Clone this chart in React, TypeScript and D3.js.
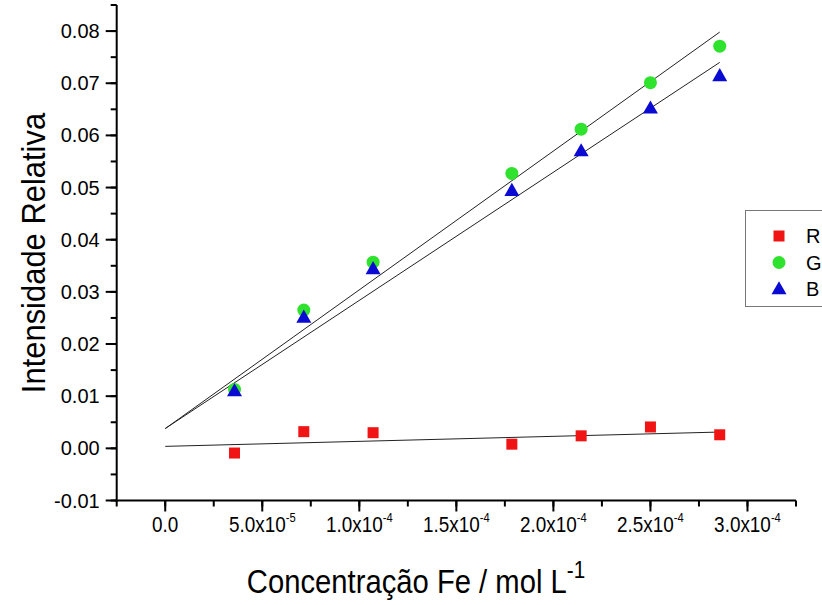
import React from "react";
import * as d3 from "d3";

// Fe concentration (mol/L) for each standard
const concentration = [3.57e-5, 7.14e-5, 1.071e-4, 1.786e-4, 2.143e-4, 2.5e-4, 2.857e-4];

// relative intensity per channel
const seriesR = [-0.0009, 0.0032, 0.003, 0.0008, 0.0024, 0.0041, 0.0026];
const seriesG = [0.0113, 0.0265, 0.0357, 0.0527, 0.0612, 0.0701, 0.0771];
const seriesB = [0.011, 0.0251, 0.0344, 0.0494, 0.057, 0.0652, 0.0714];

// linear fits: [intercept, slope]
const fitR = [0.00038, 9.6];
const fitG = [0.00378, 266.1];
const fitB = [0.0038, 245.7];
const fitRange = [0, 2.857e-4];

const xTicks = [0, 5e-5, 1e-4, 1.5e-4, 2e-4, 2.5e-4, 3e-4];
const yTicks = [-0.01, 0, 0.01, 0.02, 0.03, 0.04, 0.05, 0.06, 0.07, 0.08];

const W = 822;
const H = 605;
const FONT = "'Liberation Sans', Arial, sans-serif";

const colors = { R: "#f01414", G: "#2ee22e", B: "#0a0ad2" };

function xLabel(v: number) {
  if (v === 0) return { m: "0.0", e: "" };
  const e = Math.floor(Math.log10(v) + 1e-9);
  const m = v / Math.pow(10, e);
  return { m: m.toFixed(1) + "x10", e: "-" + Math.abs(e) };
}

function Marker({ kind, x, y }: { kind: string; x: number; y: number }) {
  if (kind === "R") {
    return <rect x={x - 5.5} y={y - 5.5} width={11} height={11} fill={colors.R} />;
  }
  if (kind === "G") {
    return <circle cx={x} cy={y} r={6.5} fill={colors.G} />;
  }
  const s = 15;
  const h = s * 0.87;
  return (
    <path
      d={`M${x},${y - h * 0.6} L${x + s / 2},${y + h * 0.4} L${x - s / 2},${y + h * 0.4} Z`}
      fill={colors.B}
    />
  );
}

export default function App() {
  const x = d3.scaleLinear().domain([-2.5e-5, 3.25e-4]).range([116.7, 796]);
  const y = d3.scaleLinear().domain([-0.01, 0.085]).range([500.5, 5]);

  const xMinor = d3.range(-2.5e-5, 3.26e-4, 2.5e-5);
  const yMinor = d3.range(-0.01, 0.0851, 0.005);

  const line = d3
    .line<number[]>()
    .x((d) => x(d[0]))
    .y((d) => y(d[1]));

  const fits: [string, number[]][] = [
    ["R", fitR],
    ["G", fitG],
    ["B", fitB],
  ];
  const series: [string, number[]][] = [
    ["R", seriesR],
    ["G", seriesG],
    ["B", seriesB],
  ];

  const x0 = x.range()[0];
  const y0 = y.range()[0];

  return (
    <svg
      width={W}
      height={H}
      style={{ position: "absolute", left: 0, top: 0, background: "#fff" }}
    >
      <rect width={W} height={H} fill="#fff" />

      {/* fit lines */}
      {fits.map(([k, f]) => (
        <path
          key={"fit" + k}
          d={line(fitRange.map((c) => [c, f[0] + f[1] * c])) || ""}
          stroke="#222"
          strokeWidth={1}
          fill="none"
        />
      ))}

      {/* points */}
      {series.map(([k, vals]) =>
        vals.map((v, i) => <Marker key={k + i} kind={k} x={x(concentration[i])} y={y(v)} />)
      )}

      {/* y axis */}
      <line x1={x0} x2={x0} y1={y.range()[1]} y2={y0 + 1} stroke="#000" strokeWidth={2} />
      {yMinor.map((t, i) => (
        <line key={"ym" + i} x1={x0 - 6} x2={x0} y1={y(t)} y2={y(t)} stroke="#000" strokeWidth={2} />
      ))}
      {yTicks.map((t) => (
        <g key={"y" + t}>
          <line x1={x0 - 11} x2={x0} y1={y(t)} y2={y(t)} stroke="#000" strokeWidth={2} />
          <text
            x={x0 - 17}
            y={y(t) + 7}
            textAnchor="end"
            fontFamily={FONT}
            fontSize={20}
            fill="#000"
          >
            {t.toFixed(2)}
          </text>
        </g>
      ))}

      {/* x axis */}
      <line x1={x0 - 1} x2={x.range()[1]} y1={y0} y2={y0} stroke="#000" strokeWidth={2} />
      {xMinor.map((t, i) => (
        <line key={"xm" + i} x1={x(t)} x2={x(t)} y1={y0} y2={y0 + 6} stroke="#000" strokeWidth={2} />
      ))}
      {xTicks.map((t) => {
        const lab = xLabel(t);
        return (
          <g key={"x" + t}>
            <line x1={x(t)} x2={x(t)} y1={y0} y2={y0 + 11} stroke="#000" strokeWidth={2} />
            <text
              transform={`translate(${x(t)},${y0 + 31}) scale(0.86,1)`}
              textAnchor="middle"
              fontFamily={FONT}
              fontSize={22}
              fill="#000"
            >
              {lab.m}
              {lab.e && (
                <tspan dy={-10} fontSize={13}>
                  {lab.e}
                </tspan>
              )}
            </text>
          </g>
        );
      })}

      {/* axis titles */}
      <text
        transform={`translate(45,253) rotate(-90) scale(0.91,1)`}
        textAnchor="middle"
        fontFamily={FONT}
        fontSize={34}
        fill="#000"
      >
        Intensidade Relativa
      </text>
      <text
        transform={`translate(416,593) scale(0.86,1)`}
        textAnchor="middle"
        fontFamily={FONT}
        fontSize={34}
        fill="#000"
      >
        Concentração Fe / mol L
        <tspan dy={-15} fontSize={24}>
          -1
        </tspan>
      </text>

      {/* legend */}
      <rect x={745.5} y={210.5} width={90} height={96} fill="#fff" stroke="#777" strokeWidth={1} />
      {series.map(([k], i) => (
        <g key={"lg" + k}>
          <Marker kind={k} x={779} y={236 + i * 26.5} />
          <text x={806} y={236 + i * 26.5 + 7} fontFamily={FONT} fontSize={20} fill="#000">
            {k}
          </text>
        </g>
      ))}
    </svg>
  );
}
